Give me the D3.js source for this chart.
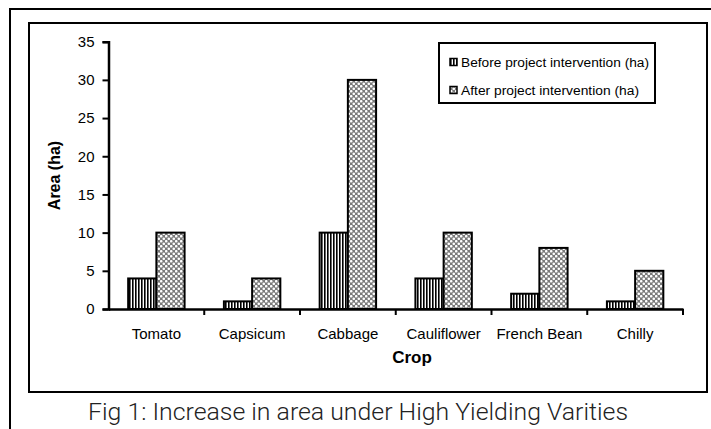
<!DOCTYPE html>
<html><head><meta charset="utf-8">
<script src="https://cdn.jsdelivr.net/npm/d3@7"></script>
<style>body{margin:0;background:#fff}svg{display:block}</style>
</head><body>
<svg id="c" width="711" height="429"></svg>
<script>
const categories = ["Tomato","Capsicum","Cabbage","Cauliflower","French Bean","Chilly"];
const seriesNames = ["Before project intervention (ha)","After project intervention (ha)"];
const before = [4,1,10,4,2,1];
const after = [10,4,30,10,8,5];
const yTicks = [0,5,10,15,20,25,30,35];
const yLabel = "Area (ha)";
const xLabel = "Crop";
const caption = "Fig 1: Increase in area under High Yielding Varities";

const svg = d3.select("#c");
const defs = svg.append("defs");
const p1 = defs.append("pattern").attr("id","pv").attr("patternUnits","userSpaceOnUse").attr("width",3).attr("height",3);
p1.append("rect").attr("width",3).attr("height",3).attr("fill","#fff");
p1.append("rect").attr("x",0).attr("width",1.6).attr("height",3).attr("fill","#000");
const p2 = defs.append("pattern").attr("id","pc").attr("patternUnits","userSpaceOnUse").attr("width",5).attr("height",5);
p2.append("rect").attr("width",5).attr("height",5).attr("fill","#7a7a7a");
p2.append("circle").attr("cx",1.25).attr("cy",1.25).attr("r",1.3).attr("fill","#fff");
p2.append("circle").attr("cx",3.75).attr("cy",3.75).attr("r",1.3).attr("fill","#fff");
const fills = ["url(#pv)","url(#pc)"];

// frames
svg.append("rect").attr("x",10).attr("y",9).attr("width",720).attr("height",440).attr("fill","none").attr("stroke","#000").attr("stroke-width",2);
svg.append("rect").attr("x",29).attr("y",23).attr("width",678).attr("height",369).attr("fill","none").attr("stroke","#000").attr("stroke-width",2);

const y = d3.scaleLinear().domain([0,35]).range([309,41.7]);
const x = d3.scaleBand().domain(categories).range([108.5,683]).padding(0);
const xs = d3.scaleBand().domain([0,1]).range([0,x.bandwidth()]).paddingInner(0).paddingOuter(0.697);

const data = categories.map((c,i)=>({c, v:[before[i],after[i]]}));
const g = svg.append("g");
data.forEach(d=>{
  d.v.forEach((v,k)=>{
    g.append("rect")
      .attr("x", x(d.c)+xs(k))
      .attr("y", y(v))
      .attr("width", xs.bandwidth())
      .attr("height", y(0)-y(v))
      .attr("fill", fills[k]).attr("stroke","#000").attr("stroke-width",2);
  });
});

// y axis
const ya = svg.append("g").attr("transform","translate(108.5,0)")
  .call(d3.axisLeft(y).tickValues(yTicks).tickSize(6).tickPadding(8));
ya.select(".domain").attr("stroke-width",2.5);
ya.selectAll(".tick line").attr("stroke-width",2);
ya.selectAll("text").attr("font-family","Liberation Sans, Arial, sans-serif").attr("font-size",15).attr("fill","#000");

// x axis
const xa = svg.append("g").attr("transform","translate(0,309)")
  .call(d3.axisBottom(x).tickSize(0).tickPadding(19));
xa.select(".domain").attr("stroke-width",2.5);
xa.selectAll("text").attr("font-family","Liberation Sans, Arial, sans-serif").attr("font-size",15).attr("fill","#000");
const bounds = categories.map(c=>x(c)+x.bandwidth());
xa.selectAll(".bt").data(bounds).enter().append("line").attr("class","bt")
  .attr("x1",d=>d).attr("x2",d=>d).attr("y1",0).attr("y2",6).attr("stroke","#000").attr("stroke-width",2);

// axis titles
svg.append("text").attr("transform","translate(60,175.5) rotate(-90)").attr("text-anchor","middle")
  .attr("font-family","Liberation Sans, Arial, sans-serif").attr("font-weight","bold").attr("font-size",16).text(yLabel);
svg.append("text").attr("x",412).attr("y",363).attr("text-anchor","middle")
  .attr("font-family","Liberation Sans, Arial, sans-serif").attr("font-weight","bold").attr("font-size",17).text(xLabel);

// legend
svg.append("rect").attr("x",439).attr("y",43).attr("width",216).attr("height",60).attr("fill","#fff").attr("stroke","#000").attr("stroke-width",2);
seriesNames.forEach((n,k)=>{
  const cy = 62 + k*28;
  svg.append("rect").attr("x",450).attr("y",cy-3.5).attr("width",7).attr("height",7).attr("fill",fills[k]).attr("stroke","#000").attr("stroke-width",1.5);
  svg.append("text").attr("x",461).attr("y",cy+4.5).attr("font-family","Liberation Sans, Arial, sans-serif").attr("font-size",12.5)
    .attr("textLength", k===0?188:178).attr("lengthAdjust","spacingAndGlyphs").text(n);
});

// caption
svg.append("text").attr("x",88).attr("y",420).attr("font-family","Roboto, sans-serif").attr("font-weight",300).attr("font-size",23)
  .attr("textLength",540).attr("lengthAdjust","spacingAndGlyphs").attr("fill","#222").text(caption);
</script>
</body></html>
